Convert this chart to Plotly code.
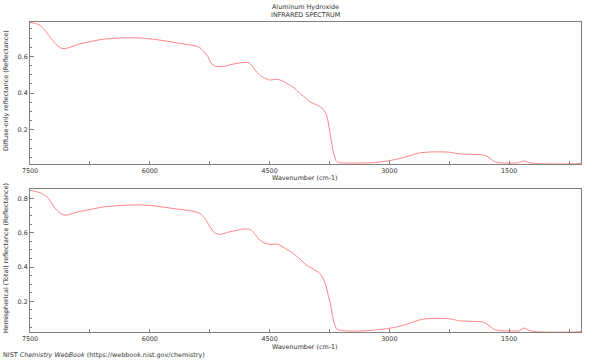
import plotly.graph_objects as go
from plotly.subplots import make_subplots

# ---- data ----
wn_diffuse = [7500, 7440, 7375, 7300, 7250, 7180, 7112, 7062, 7000, 6875, 6750, 6604, 6450, 6312, 6104,
              5896, 5750, 5646, 5500, 5417, 5370, 5320, 5271, 5229, 5187, 5146, 5062, 4958, 4850, 4792,
              4755, 4729, 4680, 4625, 4560, 4500, 4440, 4396, 4330, 4250, 4180, 4125, 4060, 4000, 3930,
              3875, 3830, 3800, 3771, 3750, 3729, 3710, 3687, 3666, 3625, 3500, 3375, 3208, 3100, 3000,
              2900, 2833, 2700, 2625, 2500, 2375, 2250, 2180, 2125, 2000, 1900, 1833, 1780, 1750, 1700,
              1666, 1600, 1500, 1396, 1340, 1312, 1280, 1250, 1187, 1100, 1000, 900, 800, 700, 640, 600]
refl_diffuse = [0.785, 0.780, 0.769, 0.735, 0.706, 0.668, 0.645, 0.642, 0.650, 0.668, 0.680, 0.692, 0.698,
                0.701, 0.700, 0.690, 0.680, 0.672, 0.662, 0.656, 0.647, 0.625, 0.598, 0.562, 0.548, 0.544,
                0.547, 0.558, 0.566, 0.568, 0.564, 0.553, 0.525, 0.499, 0.482, 0.472, 0.474, 0.476, 0.464,
                0.445, 0.425, 0.400, 0.378, 0.355, 0.340, 0.328, 0.312, 0.295, 0.256, 0.200, 0.148, 0.095,
                0.057, 0.030, 0.022, 0.020, 0.020, 0.022, 0.027, 0.033, 0.042, 0.049, 0.066, 0.075, 0.080,
                0.081, 0.079, 0.074, 0.070, 0.068, 0.067, 0.065, 0.058, 0.049, 0.033, 0.025, 0.021, 0.020,
                0.021, 0.028, 0.031, 0.028, 0.022, 0.018, 0.016, 0.015, 0.015, 0.015, 0.016, 0.018, 0.020]

wn_total = [7500, 7440, 7375, 7292, 7230, 7187, 7125, 7062, 7000, 6937, 6771, 6650, 6562, 6312, 6146,
            6000, 5896, 5646, 5500, 5396, 5350, 5312, 5250, 5187, 5125, 5062, 5000, 4900, 4833, 4760,
            4729, 4680, 4625, 4560, 4500, 4396, 4300, 4208, 4120, 4042, 3950, 3875, 3830, 3792, 3765,
            3741, 3710, 3687, 3660, 3625, 3500, 3337, 3200, 3125, 3050, 2962, 2880, 2791, 2700, 2604,
            2500, 2400, 2271, 2200, 2146, 2000, 1900, 1833, 1780, 1750, 1700, 1687, 1600, 1500, 1375,
            1340, 1312, 1280, 1250, 1166, 1000, 800, 650, 600]
refl_total = [0.849, 0.842, 0.834, 0.812, 0.775, 0.744, 0.715, 0.703, 0.708, 0.718, 0.734, 0.745, 0.752,
              0.761, 0.763, 0.760, 0.754, 0.738, 0.729, 0.718, 0.705, 0.686, 0.638, 0.599, 0.591, 0.597,
              0.606, 0.615, 0.622, 0.622, 0.616, 0.590, 0.558, 0.540, 0.533, 0.533, 0.508, 0.481, 0.447,
              0.413, 0.388, 0.365, 0.335, 0.287, 0.235, 0.191, 0.110, 0.065, 0.040, 0.032, 0.027, 0.028,
              0.032, 0.036, 0.040, 0.046, 0.054, 0.065, 0.080, 0.094, 0.100, 0.101, 0.100, 0.095, 0.088,
              0.084, 0.082, 0.080, 0.068, 0.059, 0.040, 0.036, 0.029, 0.028, 0.028, 0.038, 0.045, 0.038,
              0.031, 0.023, 0.021, 0.021, 0.022, 0.024]

x_tickvals = [7500, 6000, 4500, 3000, 1500]
x_ticktext = ["7500", "6000", "4500", "3000", "1500"]

title_lines = ["Aluminum Hydroxide", "INFRARED SPECTRUM"]
x_title = "Wavenumber (cm-1)"
y_titles = ["Diffuse-only reflectance (Reflectance)", "Hemispherical (Total) reflectance (Reflectance)"]
footer = "NIST <i>Chemistry WebBook</i> (https://webbook.nist.gov/chemistry)"

LINE = "rgb(255,130,130)"
AXIS = "#808080"
FONT = dict(family="DejaVu Sans", size=6.4, color="#333333")

fig = make_subplots(rows=2, cols=1, vertical_spacing=0.081)
fig.add_trace(go.Scatter(x=wn_diffuse, y=refl_diffuse, mode="lines", line=dict(color=LINE, width=1, shape="spline", smoothing=0.6),
                         showlegend=False, hoverinfo="skip"), row=1, col=1)
fig.add_trace(go.Scatter(x=wn_total, y=refl_total, mode="lines", line=dict(color=LINE, width=1, shape="spline", smoothing=0.6),
                         showlegend=False, hoverinfo="skip"), row=2, col=1)

xcommon = dict(range=[7500, 600], tickvals=x_tickvals, ticktext=x_ticktext, ticks="inside", ticklen=3,
               tickcolor=AXIS, showline=True, linecolor=AXIS, linewidth=1, mirror=True, showgrid=False,
               zeroline=False, tickfont=FONT,
               minor=dict(tickvals=[6750, 5250, 3750, 2250, 750], ticks="inside", ticklen=3, tickcolor=AXIS))
ycommon = dict(ticks="inside", ticklen=4, tickcolor=AXIS, showline=True, linecolor=AXIS, linewidth=1,
               mirror=True, showgrid=False, zeroline=False, tickfont=FONT, dtick=0.2,
               minor=dict(dtick=0.05, ticks="inside", ticklen=2, tickcolor=AXIS))

fig.update_xaxes(**xcommon)
fig.update_yaxes(**ycommon)
fig.update_yaxes(range=[0.015, 0.787], tickvals=[0.2, 0.4, 0.6], ticktext=["0.2", "0.4", "0.6"], row=1, col=1)
fig.update_yaxes(range=[0.0215, 0.855], tickvals=[0.2, 0.4, 0.6, 0.8], ticktext=["0.2", "0.4", "0.6", "0.8"], row=2, col=1)
fig.update_layout(yaxis=dict(domain=[0.542, 1.0]), yaxis2=dict(domain=[0.0, 0.461]))

W, H = 600, 360
L, R, T, B = 30, 600 - 581.5, 22, 360 - 332
pw, ph = W - L - R, H - T - B

def px(x):  # page pixel -> paper x
    return (x - L) / pw

def py(y):  # page pixel -> paper y
    return (H - B - y) / ph

ann = []
ann.append(dict(text=title_lines[0], x=px(305.5), y=py(7), xref="paper", yref="paper", showarrow=False,
                xanchor="center", yanchor="middle", font=FONT))
ann.append(dict(text=title_lines[1], x=px(305.5), y=py(15.5), xref="paper", yref="paper", showarrow=False,
                xanchor="center", yanchor="middle", font=FONT))
ann.append(dict(text=x_title, x=px(305.5), y=py(178), xref="paper", yref="paper", showarrow=False,
                xanchor="center", yanchor="middle", font=FONT))
ann.append(dict(text=x_title, x=px(305.5), y=py(347), xref="paper", yref="paper", showarrow=False,
                xanchor="center", yanchor="middle", font=FONT))
ann.append(dict(text=y_titles[0], x=px(6), y=py(91), xref="paper", yref="paper", showarrow=False, textangle=-90,
                xanchor="center", yanchor="middle", font=FONT))
ann.append(dict(text=y_titles[1], x=px(6), y=py(258), xref="paper", yref="paper", showarrow=False, textangle=-90,
                xanchor="center", yanchor="middle", font=FONT))
ann.append(dict(text=footer, x=px(1), y=py(355), xref="paper", yref="paper", showarrow=False,
                xanchor="left", yanchor="middle", font=FONT))

fig.update_layout(width=W, height=H, margin=dict(l=L, r=R, t=T, b=B, pad=0), plot_bgcolor="white",
                  paper_bgcolor="white", annotations=ann, font=FONT)

# remove the browser's default 8px body margin so the figure sits at the page origin
fig.write_html("out.html", config={"displayModeBar": False, "staticPlot": True},
               post_script="document.body.style.margin='0';document.body.style.padding='0';document.body.style.overflow='hidden';")
